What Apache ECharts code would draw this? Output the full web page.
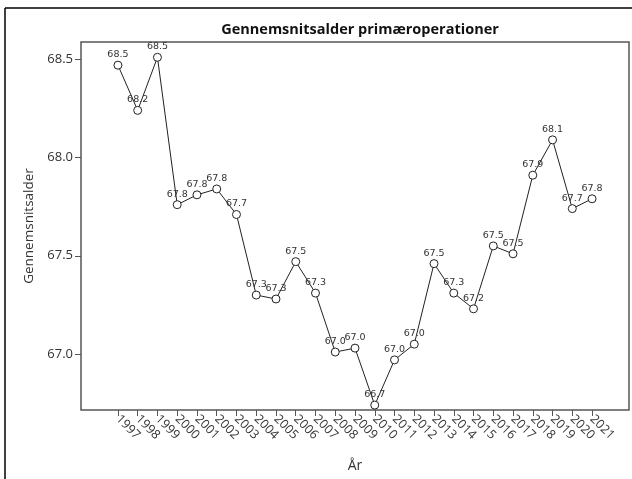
<!DOCTYPE html>
<html>
<head>
    <meta charset="utf-8">
    <title>Gennemsnitsalder primæroperationer</title>
    <script src="https://cdn.jsdelivr.net/npm/echarts@6/dist/echarts.min.js"></script>
    <style>
        html, body { margin: 0; padding: 0; background: #fff; }
        #main { width: 632px; height: 479px; }
    </style>
</head>
<body>
    <div id="main"></div>
    <script type="text/javascript">
        // data
        var years = [1997, 1998, 1999, 2000, 2001, 2002, 2003, 2004, 2005, 2006, 2007, 2008, 2009,
                     2010, 2011, 2012, 2013, 2014, 2015, 2016, 2017, 2018, 2019, 2020, 2021];
        var ages = [68.47, 68.24, 68.51, 67.76, 67.81, 67.84, 67.71, 67.30, 67.28, 67.47, 67.31, 67.01, 67.03,
                    66.74, 66.97, 67.05, 67.46, 67.31, 67.23, 67.55, 67.51, 67.91, 68.09, 67.74, 67.79];
        var yTicks = [67.0, 67.5, 68.0, 68.5];

        var points = [];
        for (var i = 0; i < years.length; i++) {
            points.push([years[i], ages[i]]);
        }

        var chart = echarts.init(document.getElementById('main'));
        chart.setOption({
            animation: false,
            backgroundColor: '#fff',
            title: {
                text: 'Gennemsnitsalder primæroperationer',
                left: 355,
                textAlign: 'center',
                top: 17,
                textStyle: { fontFamily: 'Open Sans', fontWeight: 'bold', fontSize: 14.5, color: '#111' }
            },
            grid: { left: 81, right: 3, top: 42, bottom: 69, show: true, borderColor: '#555', borderWidth: 1.5 },
            graphic: [
                { type: 'line', shape: { x1: 5, y1: 8, x2: 632, y2: 8 }, style: { stroke: '#000', lineWidth: 1.5 } },
                { type: 'line', shape: { x1: 5, y1: 8, x2: 5, y2: 479 }, style: { stroke: '#000', lineWidth: 1.5 } }
            ],
            xAxis: {
                type: 'value',
                min: 1995.13,
                max: 2022.87,
                name: 'År',
                nameLocation: 'middle',
                nameGap: 49,
                nameTextStyle: { fontFamily: 'Open Sans', fontSize: 14, color: '#333' },
                axisLine: { show: false },
                splitLine: { show: false },
                axisTick: { show: true, length: 6, customValues: years, lineStyle: { color: '#555' } },
                axisLabel: {
                    customValues: years,
                    rotate: -45,
                    margin: 7,
                    fontFamily: 'Open Sans',
                    fontSize: 12.5,
                    color: '#333',
                    formatter: function (v) { return String(Math.round(v)); }
                }
            },
            yAxis: {
                type: 'value',
                min: 66.715,
                max: 68.588,
                name: 'Gennemsnitsalder',
                nameLocation: 'middle',
                nameGap: 36,
                nameTextStyle: { fontFamily: 'Open Sans', fontSize: 13.5, color: '#333' },
                axisLine: { show: false },
                splitLine: { show: false },
                axisTick: { show: true, length: 6, customValues: yTicks, lineStyle: { color: '#555' } },
                axisLabel: {
                    customValues: yTicks,
                    margin: 8,
                    fontFamily: 'Open Sans',
                    fontSize: 13,
                    color: '#333',
                    formatter: function (v) { return v.toFixed(1); }
                }
            },
            series: [{
                type: 'line',
                data: points,
                symbol: 'circle',
                symbolSize: 8,
                lineStyle: { color: '#222', width: 1 },
                itemStyle: { color: '#fff', borderColor: '#222', borderWidth: 1 },
                label: {
                    show: true,
                    position: 'top',
                    distance: 1,
                    offset: [6, 0],
                    fontFamily: 'DejaVu Sans',
                    fontSize: 9.5,
                    color: '#333',
                    formatter: function (p) { return p.value[1].toFixed(1); }
                },
                labelLayout: { hideOverlap: false }
            }]
        });
    </script>
</body>
</html>
